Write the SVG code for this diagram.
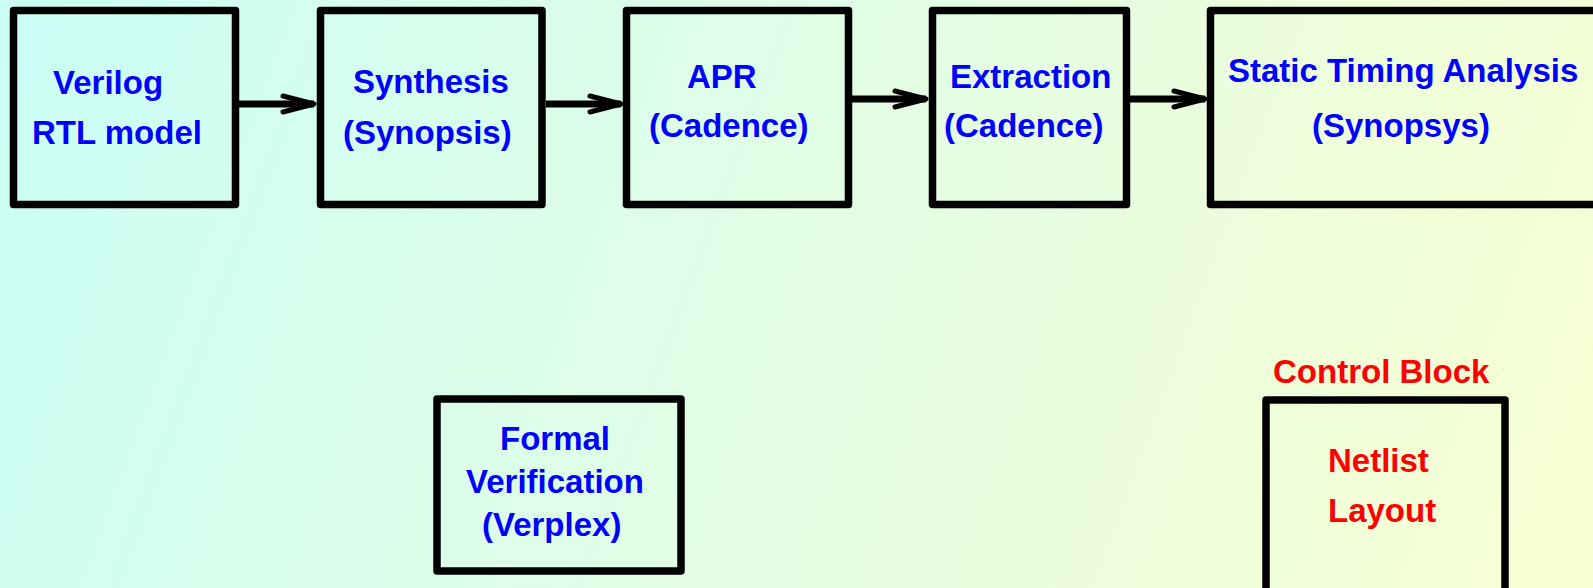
<svg xmlns="http://www.w3.org/2000/svg" width="1593" height="588" viewBox="0 0 1593 588">
  <defs>
    <linearGradient id="bg" x1="0" y1="0" x2="1593" y2="588" gradientUnits="userSpaceOnUse">
      <stop offset="0" stop-color="#CBFFF6"/>
      <stop offset="0.5" stop-color="#E2FDE4"/>
      <stop offset="1" stop-color="#F8FFD2"/>
    </linearGradient>
    <marker id="arr" markerUnits="userSpaceOnUse" markerWidth="40" markerHeight="30" viewBox="0 0 40 30" refX="34" refY="15" orient="auto" overflow="visible">
      <path d="M3,7 L34,15 L3,23" fill="none" stroke="#000" stroke-width="5" stroke-linecap="round" stroke-linejoin="round"/>
    </marker>
  </defs>
  <style>
    .box { fill: none; stroke: #000; stroke-width: 7.5; stroke-linejoin: round; }
    .t { font-family: "Liberation Sans", Arial, sans-serif; font-weight: bold; font-size: 33px; }
    .blue { fill: #0000FF; }
    .red { fill: #FF0000; }
    .conn { stroke: #000; stroke-width: 7; fill: none; }
  </style>
  <rect x="0" y="0" width="1593" height="588" fill="url(#bg)"/>

  <g id="connectors">
    <line class="conn" x1="239" y1="104" x2="314" y2="104" marker-end="url(#arr)"/>
    <line class="conn" x1="546" y1="104" x2="621" y2="104" marker-end="url(#arr)"/>
    <line class="conn" x1="852" y1="99" x2="926" y2="99" marker-end="url(#arr)"/>
    <line class="conn" x1="1130" y1="99" x2="1205" y2="99" marker-end="url(#arr)"/>
  </g>

  <g id="verilog">
    <rect class="box" x="13.5" y="10.5" width="222" height="194"/>
    <text class="t blue" x="53" y="94">Verilog</text>
    <text class="t blue" x="32" y="144">RTL model</text>
  </g>

  <g id="synthesis">
    <rect class="box" x="320.5" y="10.5" width="221.5" height="194"/>
    <text class="t blue" x="353" y="93">Synthesis</text>
    <text class="t blue" x="343" y="144">(Synopsis)</text>
  </g>

  <g id="apr">
    <rect class="box" x="626.5" y="10.5" width="222" height="194"/>
    <text class="t blue" x="687" y="88">APR</text>
    <text class="t blue" x="649" y="137">(Cadence)</text>
  </g>

  <g id="extraction">
    <rect class="box" x="932.5" y="10.5" width="194" height="194"/>
    <text class="t blue" x="950" y="88">Extraction</text>
    <text class="t blue" x="944" y="137">(Cadence)</text>
  </g>

  <g id="sta">
    <rect class="box" x="1210.5" y="10.5" width="420" height="194"/>
    <text class="t blue" x="1228" y="82">Static Timing Analysis</text>
    <text class="t blue" x="1312" y="137">(Synopsys)</text>
  </g>

  <g id="formal">
    <rect class="box" x="437" y="399" width="244" height="172"/>
    <text class="t blue" x="500" y="450">Formal</text>
    <text class="t blue" x="466" y="493">Verification</text>
    <text class="t blue" x="482" y="536">(Verplex)</text>
  </g>

  <g id="control">
    <text class="t red" x="1273" y="383">Control Block</text>
    <rect class="box" x="1266" y="400" width="239" height="220"/>
    <text class="t red" x="1328" y="472">Netlist</text>
    <text class="t red" x="1328" y="522">Layout</text>
  </g>
</svg>
